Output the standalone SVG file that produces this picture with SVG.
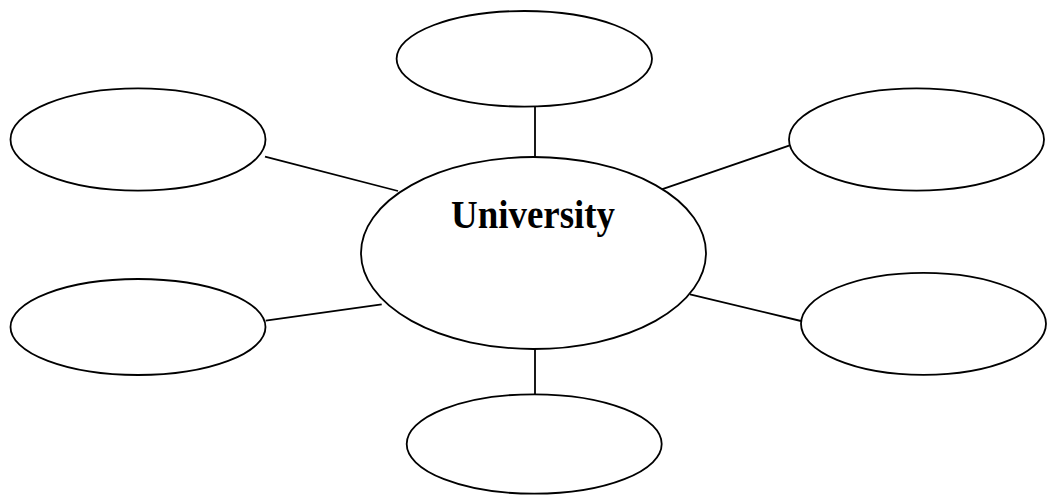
<svg xmlns="http://www.w3.org/2000/svg" width="1047" height="495" viewBox="0 0 1047 495">
  <style>
    .node { fill: #ffffff; stroke: #000000; stroke-width: 1.8; }
    .link { stroke: #000000; stroke-width: 1.8; fill: none; }
    .title { font-family: "Liberation Serif", "Times New Roman", serif; font-weight: bold; font-size: 39px; fill: #000000; }
  </style>
  <rect width="1047" height="495" fill="#ffffff"/>

  <!-- spokes from the hub to the satellite ellipses -->
  <g id="connectors">
    <line class="link" x1="535" y1="106.5" x2="535" y2="157"/>
    <line class="link" x1="265" y1="156.7" x2="398" y2="191"/>
    <line class="link" x1="789" y1="145.7" x2="661.7" y2="189.3"/>
    <line class="link" x1="265.7" y1="320.7" x2="381.7" y2="304.3"/>
    <line class="link" x1="690" y1="294.3" x2="801" y2="321"/>
    <line class="link" x1="535" y1="349" x2="535" y2="394.3"/>
  </g>

  <g id="hub">
    <ellipse class="node" cx="533.5" cy="253" rx="172.5" ry="96"/>
    <text class="title" x="451" y="227.7" textLength="164" lengthAdjust="spacingAndGlyphs">University</text>
  </g>

  <g id="node-top">
    <ellipse class="node" cx="524.3" cy="58.8" rx="127.7" ry="47.8"/>
  </g>
  <g id="node-top-left">
    <ellipse class="node" cx="138" cy="139.5" rx="127.5" ry="51.2"/>
  </g>
  <g id="node-top-right">
    <ellipse class="node" cx="916.5" cy="139.5" rx="127.5" ry="51.2"/>
  </g>
  <g id="node-bottom-left">
    <ellipse class="node" cx="138" cy="327" rx="127.5" ry="48"/>
  </g>
  <g id="node-bottom-right">
    <ellipse class="node" cx="923.5" cy="323.8" rx="122.5" ry="51"/>
  </g>
  <g id="node-bottom">
    <ellipse class="node" cx="534.2" cy="444" rx="127.5" ry="49.7"/>
  </g>
</svg>
